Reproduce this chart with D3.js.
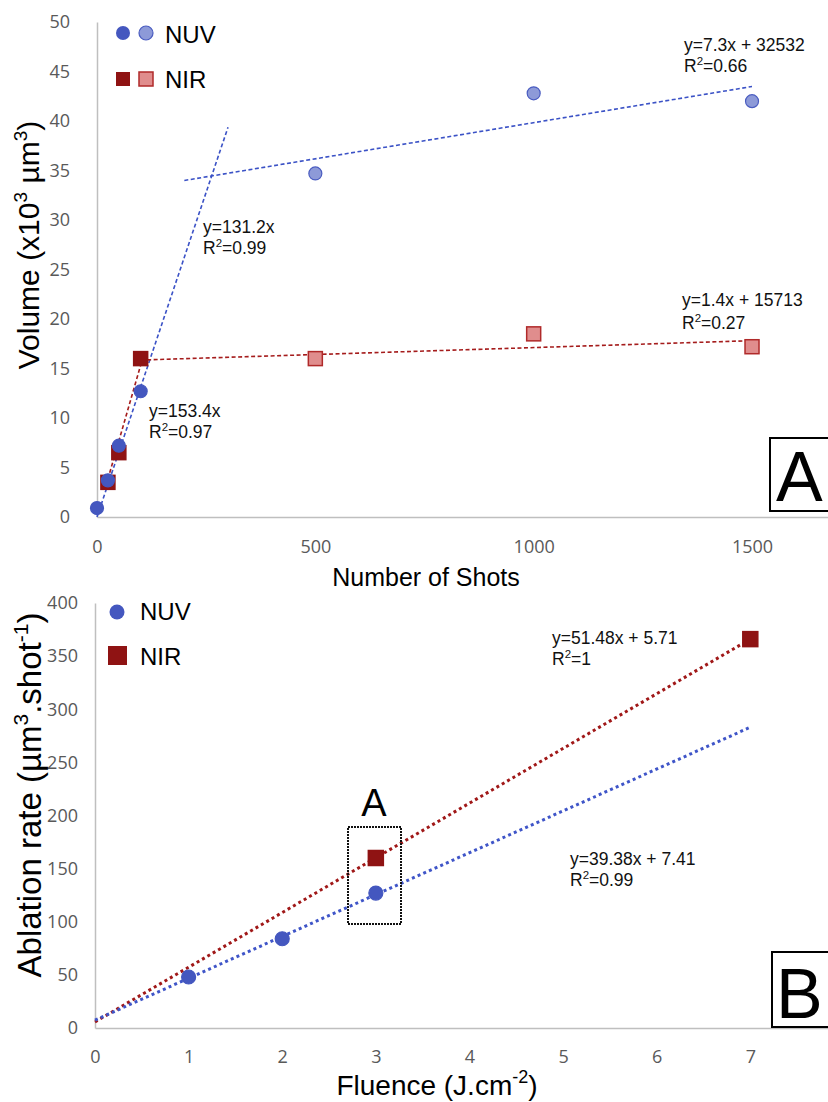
<!DOCTYPE html>
<html>
<head>
<meta charset="utf-8">
<script src="https://cdn.jsdelivr.net/npm/d3@7"></script>
<style>
  body { margin: 0; background: #fff; }
  svg { display: block; }
</style>
</head>
<body>
<div id="graph-container"></div>
<script>
// Panel A data: volume (x10^3 um^3) vs number of shots
var shotsShort = [0, 25, 50, 100];
var nuvShort = [0.9, 3.7, 7.2, 12.7];
var shotsLong = [500, 1000, 1500];
var nuvLong = [34.7, 42.8, 42.0];
var nirShotsShort = [25, 50, 100];
var nirShort = [3.5, 6.5, 16.0];
var nirLong = [16.0, 18.5, 17.2];
var shotTicks = [0, 500, 1000, 1500];
var volumeTicks = [0, 5, 10, 15, 20, 25, 30, 35, 40, 45, 50];

// Panel A trend lines (slope per shot, intercept, from, to) in x10^3 units
var trendNuvShort = [0.1312, 0, 0, 300];
var trendNuvLong = [0.0073, 32.532, 200, 1500];
var trendNirShort = [0.1534, 0, 25, 100];
var trendNirLong = [0.0014, 15.713, 100, 1500];

// Panel B data: ablation rate vs fluence
var nuvFluence = [1, 2, 3];
var nuvRate = [48, 84, 127];
var nirFluence = [3, 7];
var nirRate = [160, 366];
var fluenceTicks = [0, 1, 2, 3, 4, 5, 6, 7];
var rateTicks = [0, 50, 100, 150, 200, 250, 300, 350, 400];
var trendNirB = [51.48, 5.71, 0, 7];
var trendNuvB = [39.38, 7.41, 0, 7];

var blueDark = "#4457bf", blueLight = "#8d9ad8", blueLine = "#3b52c6";
var redDark = "#8f1313", redLight = "#e08d8d", redLine = "#a51c1c";
var textFont = "'Liberation Sans', Arial, sans-serif";
var tickFont = "'Open Sans', sans-serif";

var svgWidth = 828, svgHeight = 1102;
var svg = d3.select("#graph-container").append("svg")
  .attr("width", svgWidth).attr("height", svgHeight);

// ---------- Panel A ----------
var xA = d3.scaleLinear().domain([0, 1674]).range([97, 828]);
var yA = d3.scaleLinear().domain([0, 50]).range([517, 22]);

function styleAxis(g) {
  g.select(".domain").attr("stroke", "#bfbfbf").attr("stroke-width", 1.5);
  g.selectAll("text").attr("font-family", tickFont).attr("font-size", 18).attr("fill", "#595959");
}

svg.append("g").attr("transform", "translate(0,517)")
  .call(d3.axisBottom(xA).tickValues(shotTicks).tickFormat(d3.format("d")).tickSize(0).tickPadding(23))
  .call(styleAxis);
svg.append("g").attr("transform", "translate(97,0)")
  .call(d3.axisLeft(yA).tickValues(volumeTicks).tickSize(0).tickPadding(27))
  .call(styleAxis);

function trendLine(t, xs, ys, color, dash, width) {
  svg.append("line")
    .attr("x1", xs(t[2])).attr("y1", ys(t[0] * t[2] + t[1]))
    .attr("x2", xs(t[3])).attr("y2", ys(t[0] * t[3] + t[1]))
    .attr("stroke", color).attr("stroke-width", width)
    .attr("stroke-dasharray", dash);
}

trendLine(trendNuvShort, xA, yA, blueLine, "4,2.5", 1.6);
trendLine(trendNuvLong, xA, yA, blueLine, "4,2.5", 1.6);
trendLine(trendNirShort, xA, yA, redLine, "4,2.5", 1.6);
trendLine(trendNirLong, xA, yA, redLine, "4,2.5", 1.6);

function squares(xs, ys, xv, yv, size, fill, stroke) {
  svg.append("g").selectAll("rect").data(xv).enter().append("rect")
    .attr("x", function (d) { return xs(d) - size / 2; })
    .attr("y", function (d, i) { return ys(yv[i]) - size / 2; })
    .attr("width", size).attr("height", size)
    .attr("fill", fill).attr("stroke", stroke).attr("stroke-width", 1.5);
}
function circles(xs, ys, xv, yv, r, fill, stroke) {
  svg.append("g").selectAll("circle").data(xv).enter().append("circle")
    .attr("cx", function (d) { return xs(d); })
    .attr("cy", function (d, i) { return ys(yv[i]); })
    .attr("r", r)
    .attr("fill", fill).attr("stroke", stroke).attr("stroke-width", 1.2);
}

squares(xA, yA, nirShotsShort, nirShort, 14, redDark, redDark);
squares(xA, yA, shotsLong, nirLong, 14, redLight, "#b02a2a");
circles(xA, yA, shotsShort, nuvShort, 6.5, blueDark, blueDark);
circles(xA, yA, shotsLong, nuvLong, 6.5, blueLight, "#4a5cc0");

// Legend A
svg.append("circle").attr("cx", 123).attr("cy", 33).attr("r", 7).attr("fill", blueDark);
svg.append("circle").attr("cx", 146).attr("cy", 33).attr("r", 7).attr("fill", blueLight).attr("stroke", "#4a5cc0").attr("stroke-width", 1.2);
svg.append("rect").attr("x", 116).attr("y", 72).attr("width", 14).attr("height", 14).attr("fill", redDark);
svg.append("rect").attr("x", 139).attr("y", 72).attr("width", 14).attr("height", 14).attr("fill", redLight).attr("stroke", "#b02a2a").attr("stroke-width", 1.5);
svg.append("text").attr("x", 165).attr("y", 43).text("NUV")
  .attr("font-family", textFont).attr("font-size", 24);
svg.append("text").attr("x", 165).attr("y", 88).text("NIR")
  .attr("font-family", textFont).attr("font-size", 24);

// Equation labels
function equation(x, y, eq, r2, gap) {
  var t = svg.append("g").attr("font-family", textFont).attr("font-size", 17.5).attr("fill", "#111");
  t.append("text").attr("x", x).attr("y", y).text(eq);
  var r = t.append("text").attr("x", x).attr("y", y + gap);
  r.append("tspan").text("R");
  r.append("tspan").attr("dy", -7).attr("font-size", 11.5).text("2");
  r.append("tspan").attr("dy", 7).text("=" + r2);
}
equation(684, 51, "y=7.3x + 32532", "0.66", 21);
equation(203, 233, "y=131.2x", "0.99", 21);
equation(682, 306, "y=1.4x + 15713", "0.27", 23);
equation(149, 417, "y=153.4x", "0.97", 21);
equation(552, 644, "y=51.48x + 5.71", "1", 21);
equation(570, 865, "y=39.38x + 7.41", "0.99", 21);

// Axis titles A
svg.append("text").attr("x", 426).attr("y", 586).attr("text-anchor", "middle")
  .attr("font-family", textFont).attr("font-size", 25).text("Number of Shots");
var ytA = svg.append("text").attr("transform", "translate(39,245) rotate(-90)")
  .attr("text-anchor", "middle").attr("font-family", textFont).attr("font-size", 30);
ytA.append("tspan").text("Volume (x10");
ytA.append("tspan").attr("dy", -12).attr("font-size", 19).text("3");
ytA.append("tspan").attr("dy", 12).text(" \u00b5m");
ytA.append("tspan").attr("dy", -12).attr("font-size", 19).text("3");
ytA.append("tspan").attr("dy", 12).text(")");

// Panel label A
svg.append("rect").attr("x", 770).attr("y", 438).attr("width", 70).attr("height", 73)
  .attr("fill", "#fff").attr("stroke", "#000").attr("stroke-width", 2);
svg.append("text").attr("x", 776).attr("y", 501).attr("font-family", textFont)
  .attr("font-size", 70).text("A");

// ---------- Panel B ----------
var xB = d3.scaleLinear().domain([0, 7.83]).range([95, 828]);
var yB = d3.scaleLinear().domain([0, 400]).range([1028, 603]);

svg.append("g").attr("transform", "translate(0,1028)")
  .call(d3.axisBottom(xB).tickValues(fluenceTicks).tickSize(0).tickPadding(22))
  .call(styleAxis);
svg.append("g").attr("transform", "translate(95,0)")
  .call(d3.axisLeft(yB).tickValues(rateTicks).tickSize(0).tickPadding(17))
  .call(styleAxis);

trendLine(trendNirB, xB, yB, "#a01818", "3,3.2", 3);
trendLine(trendNuvB, xB, yB, "#3f55c8", "3,3.2", 3);

circles(xB, yB, nuvFluence, nuvRate, 7, blueDark, blueDark);
squares(xB, yB, nirFluence, nirRate, 15, redDark, redDark);

// Inset box "A"
svg.append("rect").attr("x", 348).attr("y", 827).attr("width", 53).attr("height", 97)
  .attr("fill", "none").attr("stroke", "#111").attr("stroke-width", 2).attr("stroke-dasharray", "2,1");
svg.append("text").attr("x", 374).attr("y", 816).attr("text-anchor", "middle")
  .attr("font-family", textFont).attr("font-size", 38).text("A");

// Legend B
svg.append("circle").attr("cx", 117).attr("cy", 612).attr("r", 7.5).attr("fill", blueDark);
svg.append("rect").attr("x", 108).attr("y", 646).attr("width", 19).attr("height", 19).attr("fill", redDark);
svg.append("text").attr("x", 140).attr("y", 620).text("NUV")
  .attr("font-family", textFont).attr("font-size", 24);
svg.append("text").attr("x", 140).attr("y", 665).text("NIR")
  .attr("font-family", textFont).attr("font-size", 24);

// Axis titles B
var xtB = svg.append("text").attr("x", 437).attr("y", 1095).attr("text-anchor", "middle")
  .attr("font-family", textFont).attr("font-size", 28);
xtB.append("tspan").text("Fluence (J.cm");
xtB.append("tspan").attr("dy", -12).attr("font-size", 18).text("-2");
xtB.append("tspan").attr("dy", 12).text(")");

var ytB = svg.append("text").attr("transform", "translate(41,795) rotate(-90)")
  .attr("text-anchor", "middle").attr("font-family", textFont).attr("font-size", 33);
ytB.append("tspan").text("Ablation rate (\u00b5m");
ytB.append("tspan").attr("dy", -13).attr("font-size", 21).text("3");
ytB.append("tspan").attr("dy", 13).text(".shot");
ytB.append("tspan").attr("dy", -13).attr("font-size", 21).text("-1");
ytB.append("tspan").attr("dy", 13).text(")");

// Panel label B
svg.append("rect").attr("x", 772).attr("y", 952).attr("width", 70).attr("height", 75)
  .attr("fill", "#fff").attr("stroke", "#000").attr("stroke-width", 2);
svg.append("text").attr("x", 776).attr("y", 1018).attr("font-family", textFont)
  .attr("font-size", 70).text("B");
</script>
</body>
</html>
